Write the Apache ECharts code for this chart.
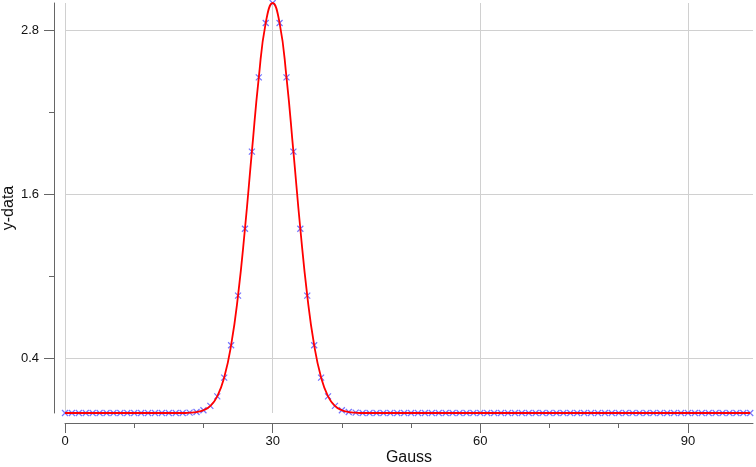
<!DOCTYPE html>
<html>
<head>
<meta charset="utf-8">
<script src="https://cdn.jsdelivr.net/npm/echarts@6/dist/echarts.min.js"></script>
<style>html,body{margin:0;padding:0;background:#fff}#c{width:756px;height:467px}</style>
</head>
<body>
<div id="c"></div>
<script>
const xValues = [];
for (let i = 0; i < 100; i++) xValues.push(i);
const yValues = [
  0, 0, 0, 0, 0, 0, 0, 0, 0, 0,
  0, 0, 0, 0, 0, 0, 0, 0, 0.0022, 0.007,
  0.020, 0.052, 0.122, 0.259, 0.496, 0.859, 1.348, 1.912, 2.456, 2.854,
  3.000, 2.854, 2.456, 1.912, 1.348, 0.859, 0.496, 0.259, 0.122, 0.052,
  0.020, 0.007, 0.0022, 0, 0, 0, 0, 0, 0, 0,
  0, 0, 0, 0, 0, 0, 0, 0, 0, 0,
  0, 0, 0, 0, 0, 0, 0, 0, 0, 0,
  0, 0, 0, 0, 0, 0, 0, 0, 0, 0,
  0, 0, 0, 0, 0, 0, 0, 0, 0, 0,
  0, 0, 0, 0, 0, 0, 0, 0, 0, 0
];
const xMajor = [0, 30, 60, 90];
const xMinor = [10, 20, 40, 50, 70, 80];
const yMajor = [0.4, 1.6, 2.8];
const yMinor = [1.0, 2.2];
const xName = 'Gauss';
const yName = 'y-data';

const pts = xValues.map((x, i) => [x, yValues[i]]);
const font = 'Liberation Sans, Arial, sans-serif';
const axisCol = '#666';
const chart = echarts.init(document.getElementById('c'));
chart.setOption({
  animation: false,
  grid: {left: 65, right: 3, top: 3, bottom: 54, containLabel: false, outerBoundsMode: 'none'},
  xAxis: [{
    type: 'value', min: 0, max: 99.4, offset: 10,
    name: xName, nameLocation: 'middle', nameGap: 27, nameMoveOverlap: false,
    nameTextStyle: {fontFamily: font, fontSize: 16, color: '#111'},
    axisLine: {show: true, onZero: false, lineStyle: {color: axisCol, width: 1}},
    axisTick: {show: true, length: 10, customValues: xMajor, lineStyle: {color: axisCol}},
    axisLabel: {customValues: xMajor, margin: 12, fontFamily: font, fontSize: 13, color: '#111'},
    splitLine: {show: true, lineStyle: {color: '#d0d0d0', width: 1}}
  }, {
    type: 'value', min: 0, max: 99.4, offset: 10, position: 'bottom',
    axisLine: {show: false, onZero: false},
    axisTick: {show: true, length: 5, customValues: xMinor, lineStyle: {color: axisCol}},
    axisLabel: {show: false},
    splitLine: {show: false}
  }],
  yAxis: [{
    type: 'value', min: 0, max: 3, offset: 11,
    name: yName, nameLocation: 'middle', nameGap: 37, nameRotate: 90, nameMoveOverlap: false,
    nameTextStyle: {fontFamily: font, fontSize: 16, color: '#111'},
    axisLine: {show: true, onZero: false, lineStyle: {color: axisCol, width: 1}},
    axisTick: {show: true, length: 10, customValues: yMajor, lineStyle: {color: axisCol}},
    axisLabel: {customValues: yMajor, margin: 15, fontFamily: font, fontSize: 13, color: '#111'},
    splitLine: {show: true, lineStyle: {color: '#d0d0d0', width: 1}}
  }, {
    type: 'value', min: 0, max: 3, offset: 11, position: 'left',
    axisLine: {show: false, onZero: false},
    axisTick: {show: true, length: 5, customValues: yMinor, lineStyle: {color: axisCol}},
    axisLabel: {show: false},
    splitLine: {show: false}
  }],
  series: [{
    type: 'scatter', data: pts, xAxisIndex: 0, yAxisIndex: 0,
    symbol: 'path://M0,0L10,10M10,0L0,10', symbolSize: 6,
    itemStyle: {color: 'rgba(0,0,0,0)', borderColor: '#5050ff', borderWidth: 1.2},
    z: 2
  }, {
    type: 'line', data: pts, xAxisIndex: 0, yAxisIndex: 0,
    showSymbol: false, smooth: 0.5,
    lineStyle: {color: '#ff0000', width: 1.8},
    z: 3
  }]
});
</script>
</body>
</html>
